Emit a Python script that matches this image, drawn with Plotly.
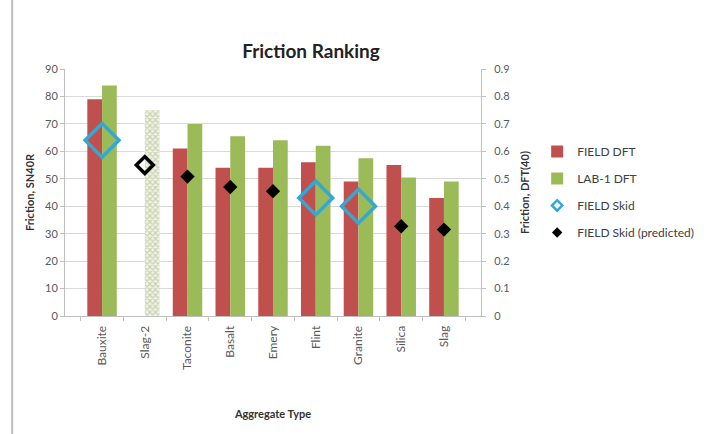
import plotly.graph_objects as go

categories = ["Bauxite", "Slag-2", "Taconite", "Basalt", "Emery", "Flint", "Granite", "Silica", "Slag"]
field_dft = [0.79, None, 0.61, 0.54, 0.54, 0.56, 0.49, 0.55, 0.43]
lab1_dft = [0.84, 0.75, 0.70, 0.655, 0.64, 0.62, 0.575, 0.505, 0.49]
field_skid = [64, None, None, None, None, 43, 40, None, None]
skid_predicted = [None, None, 50.8, 47, 45.5, None, None, 32.7, 31.5]
slag2_skid = [None, 55, None, None, None, None, None, None, None]
lab1_pattern = ["", "x", "", "", "", "", "", "", ""]

RED = "#C0504D"
GREEN = "#9BBB59"
CYAN = "#31A9D6"
FONT = "Lato"
TXT = "#404040"

fig = go.Figure()
fig.add_trace(go.Bar(x=categories, y=field_dft, name="FIELD DFT", marker_color=RED,
                     marker_line_width=0, yaxis="y", legendgroup="a"))
fig.add_trace(go.Bar(x=categories, y=lab1_dft, name="LAB-1 DFT", marker_color=GREEN,
                     marker_line_width=0,
                     marker_pattern=dict(shape=lab1_pattern, fgcolor="#9DB178", bgcolor="#F0F3E6",
                                         size=4, solidity=0.5),
                     yaxis="y", legendgroup="b"))
fig.add_trace(go.Scatter(x=categories, y=field_skid, name="FIELD Skid", mode="markers",
                         showlegend=False,
                         marker=dict(symbol="diamond-open", size=26, color=CYAN,
                                     line=dict(width=3.5, color=CYAN)),
                         yaxis="y2", legendgroup="c"))
# legend entries with small symbols, as in the reference legend
fig.add_trace(go.Scatter(x=[None], y=[None], name="FIELD Skid", mode="markers",
                         marker=dict(symbol="diamond-open", size=8, color=CYAN,
                                     line=dict(width=2.5, color=CYAN)),
                         yaxis="y2", legendgroup="c"))
fig.add_trace(go.Scatter(x=categories, y=skid_predicted, name="FIELD Skid (predicted)", mode="markers",
                         showlegend=False,
                         marker=dict(symbol="diamond", size=11, color="black"),
                         yaxis="y2", legendgroup="d"))
fig.add_trace(go.Scatter(x=[None], y=[None], name="FIELD Skid (predicted)", mode="markers",
                         marker=dict(symbol="diamond", size=8, color="black"),
                         yaxis="y2", legendgroup="d"))
fig.add_trace(go.Scatter(x=categories, y=slag2_skid, name="Slag-2 Skid", mode="markers",
                         showlegend=False,
                         marker=dict(symbol="diamond-open", size=13, color="black",
                                     line=dict(width=3.5, color="black")),
                         yaxis="y2"))

fig.update_layout(
    width=711, height=434,
    margin=dict(l=65, r=228, t=69, b=118),
    paper_bgcolor="white", plot_bgcolor="white",
    font=dict(family=FONT, color=TXT),
    barmode="group", bargap=0.31, bargroupgap=0,
    title=dict(text="<b>Friction Ranking</b>", x=(311 / 711), xanchor="center",
               y=1 - 51 / 434, yanchor="middle", font=dict(size=19, color="#222222")),
    xaxis=dict(
        tickangle=-90, tickfont=dict(size=12, color="#595959"), ticklabelstandoff=4,
        showline=True, linecolor="#BFBFBF", linewidth=1,
        ticks="outside", ticklen=4, tickcolor="#BFBFBF", tickson="boundaries",
        title=dict(text="<b>Aggregate Type</b>", font=dict(size=11, color="#333333"), standoff=41),
    ),
    yaxis=dict(
        side="right", range=[0, 0.9], dtick=0.1,
        tickfont=dict(size=11, color="#595959"), ticklabelstandoff=6,
        showgrid=True, gridcolor="#D9D9D9", gridwidth=1,
        showline=True, linecolor="#BFBFBF", linewidth=1,
        ticks="outside", ticklen=4, tickcolor="#BFBFBF",
        zeroline=False,
        title=dict(text="<b>Friction, DFT(40)</b>", font=dict(size=11, color="#333333"), standoff=12),
    ),
    yaxis2=dict(
        side="left", overlaying="y", range=[0, 90], dtick=10,
        tickfont=dict(size=11, color="#595959"),
        showgrid=False,
        showline=True, linecolor="#BFBFBF", linewidth=1,
        ticks="outside", ticklen=4, tickcolor="#BFBFBF",
        zeroline=False,
        title=dict(text="<b>Friction, SN40R</b>", font=dict(size=11, color="#333333"), standoff=8),
    ),
    legend=dict(x=1.135, xanchor="left", y=0.725, yanchor="top",
                font=dict(size=12, color=TXT), tracegroupgap=8,
                traceorder="grouped", bgcolor="rgba(0,0,0,0)"),
    shapes=[dict(type="line", xref="paper", yref="paper", x0=-0.127, x1=-0.127, y0=-0.5, y1=1.5,
                 line=dict(color="#BFBFBF", width=2))],
)

fig.write_html("out.html")
